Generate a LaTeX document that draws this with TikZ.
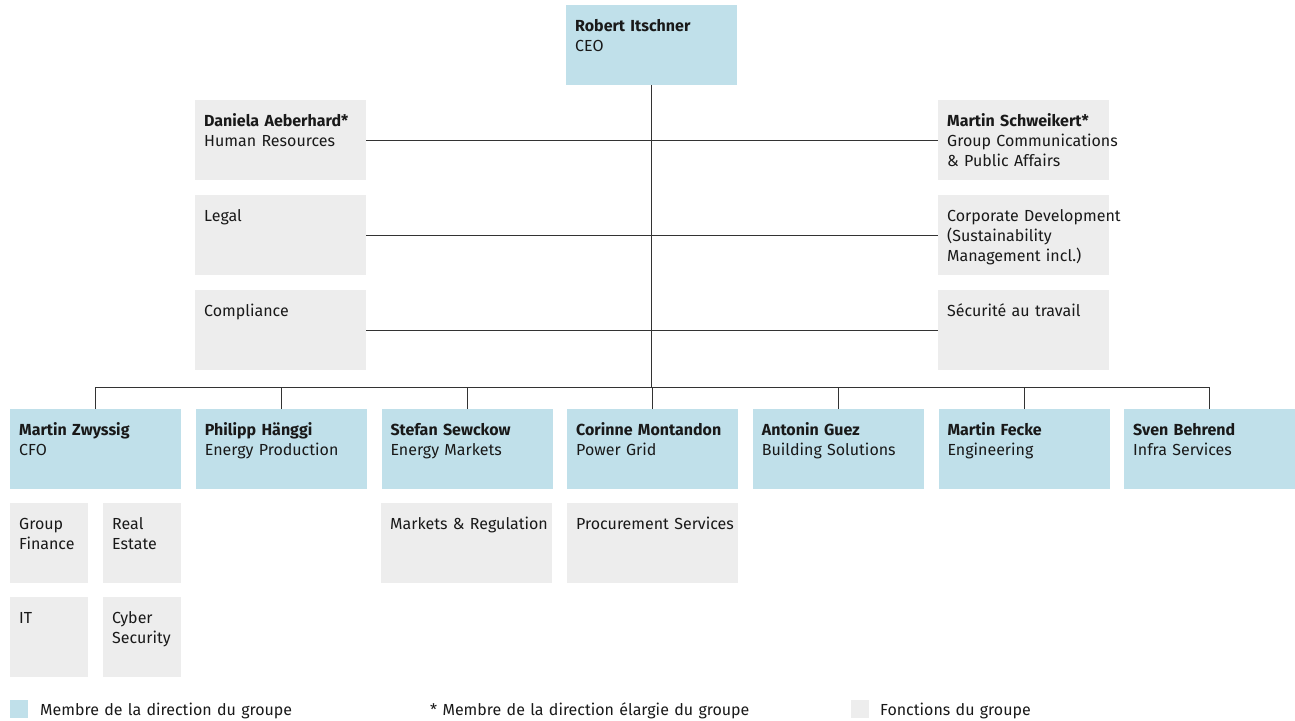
\documentclass[tikz,border=0pt]{standalone}
\usepackage{fontspec}
\setmainfont{Fira Sans}
\definecolor{boardblue}{HTML}{C0E0EA}
\definecolor{groupgrey}{HTML}{EDEDED}
\definecolor{linegrey}{HTML}{333333}
\tikzset{
    member/.style={fill=boardblue, anchor=north west, inner sep=0pt, minimum width=171pt, minimum height=80pt},
    groupfn/.style={member, fill=groupgrey},
    smallfn/.style={groupfn, minimum width=78pt},
    boxtext/.style={anchor=base west, inner sep=0pt, align=left, text width=300pt, text=black!90, font=\fontsize{16}{20}\selectfont},
    link/.style={draw=linegrey, line width=1pt},
}
\begin{document}
\begin{tikzpicture}[x=1pt, y=-1pt]
        \useasboundingbox (0, 0) rectangle (1295, 720);

        \node[member] (ceo) at (566, 5) {};
        \node[boxtext] (ceo_t) at ([shift={(9, 26)}]ceo.north west) {\textbf{Robert Itschner}\\CEO};

        \node[groupfn] (hr) at (195, 100) {};
        \node[boxtext] (hr_t) at ([shift={(9, 26)}]hr.north west) {\textbf{Daniela Aeberhard*}\\Human Resources};
        \node[groupfn] (legal) at (195, 195) {};
        \node[boxtext] (legal_t) at ([shift={(9, 26)}]legal.north west) {Legal};
        \node[groupfn] (compliance) at (195, 290) {};
        \node[boxtext] (compliance_t) at ([shift={(9, 26)}]compliance.north west) {Compliance};

        \node[groupfn] (comm) at (938, 100) {};
        \node[boxtext] (comm_t) at ([shift={(9, 26)}]comm.north west) {\textbf{Martin Schweikert*}\\Group Communications\\\& Public Affairs};
        \node[groupfn] (corpdev) at (938, 195) {};
        \node[boxtext] (corpdev_t) at ([shift={(9, 26)}]corpdev.north west) {Corporate Development\\(Sustainability\\Management incl.)};
        \node[groupfn] (safety) at (938, 290) {};
        \node[boxtext] (safety_t) at ([shift={(9, 26)}]safety.north west) {Sécurité au travail};

        \draw[link] (hr.east) -- (comm.west);
        \draw[link] (legal.east) -- (corpdev.west);
        \draw[link] (compliance.east) -- (safety.west);

        \coordinate (bus) at (0, 387);
        \foreach \i/\name/\unit in {0/Martin Zwyssig/CFO, 1/Philipp Hänggi/Energy Production, 2/Stefan Sewckow/Energy Markets, 3/Corinne Montandon/Power Grid, 4/Antonin Guez/Building Solutions, 5/Martin Fecke/Engineering, 6/Sven Behrend/Infra Services} {
            \node[member] (div\i) at ({10 + \i*185.67}, 409) {};
            \node[boxtext] (div\i_t) at ([shift={(9, 26)}]div\i.north west) {\textbf{\name}\\\unit};
            \draw[link] (div\i.north) -- (div\i.north |- bus);
        }
        \draw[link] (div0.north |- bus) -- (div6.north |- bus);
        \draw[link] (ceo.south) -- (ceo.south |- bus);

        \node[smallfn] (finance) at (10, 503) {};
        \node[boxtext] (finance_t) at ([shift={(9, 26)}]finance.north west) {Group\\Finance};
        \node[smallfn] (estate) at (103, 503) {};
        \node[boxtext] (estate_t) at ([shift={(9, 26)}]estate.north west) {Real\\Estate};
        \node[smallfn] (it) at (10, 597) {};
        \node[boxtext] (it_t) at ([shift={(9, 26)}]it.north west) {IT};
        \node[smallfn] (cyber) at (103, 597) {};
        \node[boxtext] (cyber_t) at ([shift={(9, 26)}]cyber.north west) {Cyber\\Security};
        \node[groupfn] (markets) at (381, 503) {};
        \node[boxtext] (markets_t) at ([shift={(9, 26)}]markets.north west) {Markets \& Regulation};
        \node[groupfn] (procurement) at (567, 503) {};
        \node[boxtext] (procurement_t) at ([shift={(9, 26)}]procurement.north west) {Procurement Services};

        \node[member, minimum width=18pt, minimum height=18pt] (key_member) at (10, 700) {};
        \node[boxtext] (key_member_t) at (40, 715) {Membre de la direction du groupe};
        \node[boxtext, text width=400pt] (key_extended_t) at (430, 715) {* Membre de la direction élargie du groupe};
        \node[groupfn, minimum width=18pt, minimum height=18pt] (key_group) at (851, 700) {};
        \node[boxtext] (key_group_t) at (880, 715) {Fonctions du groupe};
    \end{tikzpicture}
\end{document}
